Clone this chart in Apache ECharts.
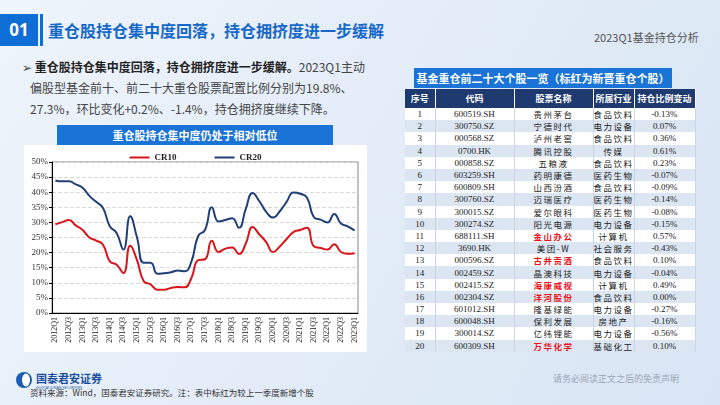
<!DOCTYPE html>
<html>
<head>
<meta charset="utf-8">
<script src="https://cdn.jsdelivr.net/npm/echarts@6.0.0/dist/echarts.min.js"></script>
<style>
  body { margin: 0; }
  #slide {
    position: relative; width: 720px; height: 405px; overflow: hidden;
    background: linear-gradient(120deg, #eef4fb 0%, #e4edf8 45%, #d8e5f4 100%);
    font-family: "Noto Sans CJK SC", "Noto Sans", sans-serif;
  }
  .abs { position: absolute; white-space: nowrap; }
  #num { left: 0; top: 14px; width: 38px; height: 32px; background: #0e6ed6; color: #fff;
         font: bold 17px "Noto Sans", sans-serif; line-height: 32px; text-align: center; }
  #bar { left: 40px; top: 14px; width: 3px; height: 32px; background: #0e6ed6; }
  #title { left: 48px; top: 17px; font-size: 16px; font-weight: bold; color: #1668c8; line-height: 26px; }
  #sub { left: 594px; top: 29px; font-size: 11px; color: #555; }
  #para { left: 22px; top: 56px; font-size: 12px; line-height: 21px; color: #444; }
  #para b { color: #222; }
  #ctitle { left: 57px; top: 125px; width: 276px; height: 20px; background: #1a73d6; color: #fff;
            font-size: 11px; font-weight: bold; text-align: center; line-height: 20px; }
  #chart { position: absolute; left: 24px; top: 145px; width: 343px; height: 207px; background: #fff; }
  #ttitle { left: 414px; top: 68px; width: 258px; height: 20px; background: #1a73d6; color: #fff;
            font-size: 11px; font-weight: bold; text-align: center; line-height: 20px; }
  #tbl { position: absolute; left: 405px; top: 89px; border-collapse: collapse; table-layout: fixed; }
  #tbl th { background: #1f3a6e; color: #fff; font-size: 9px; font-weight: bold; height: 19px;
            padding: 0; border-right: 1px solid #fff; }
  #tbl td { height: 12.2px; padding: 0; font-size: 8.5px; text-align: center; color: #222;
            border-right: 1px solid #c9d5e5; line-height: 12px; }
  #tbl td.n { font-family: "Liberation Serif", serif; font-size: 9px; }
  #tbl td.c { letter-spacing: 1.5px; }
  #tbl tr.alt td { background: #dce6f2; }
  #tbl tr.wh td { background: #fff; }
  #tbl td.red { color: #e8141b; font-weight: bold; }
  #logo { left: 15px; top: 370px; }
  #src { left: 30px; top: 386px; font-size: 8.5px; color: #333; }
  #disc { left: 553px; top: 372px; font-size: 9px; color: #9aa6b6; }
</style>
</head>
<body>
<div id="slide">
  <div id="num" class="abs">01</div>
  <div id="bar" class="abs"></div>
  <div id="title" class="abs">重仓股持仓集中度回落，持仓拥挤度进一步缓解</div>
  <div id="sub" class="abs">2023Q1基金持仓分析</div>
  <div id="para" class="abs">➢ <b>重仓股持仓集中度回落，持仓拥挤度进一步缓解。</b>2023Q1主动<br>&nbsp;&nbsp;&nbsp;偏股型基金前十、前二十大重仓股票配置比例分别为19.8%、<br>&nbsp;&nbsp;&nbsp;27.3%，环比变化+0.2%、-1.4%，持仓拥挤度继续下降。</div>
  <div id="ctitle" class="abs">重仓股持仓集中度仍处于相对低位</div>
  <div id="chart"></div>
  <div id="ttitle" class="abs">基金重仓前二十大个股一览（标红为新晋重仓个股）</div>
  <table id="tbl">
    <colgroup><col style="width:30px"><col style="width:79px"><col style="width:79px"><col style="width:41px"><col style="width:61px"></colgroup>
    <thead><tr><th>序号</th><th>代码</th><th>股票名称</th><th>所属行业</th><th>持仓比例变动</th></tr></thead>
    <tbody id="tbody"></tbody>
  </table>
  <div id="logo" class="abs">
    <svg width="95" height="22">
      <ellipse cx="9" cy="10" rx="8" ry="8" fill="#1a5fb0"/>
      <ellipse cx="11" cy="10" rx="4" ry="6.5" fill="#fff"/>
      <text x="21" y="13" font-size="11" font-weight="bold" fill="#1a4f9c" font-family="Noto Sans CJK SC">国泰君安证券</text>
      <text x="21" y="19" font-size="3.6" fill="#1a4f9c" font-family="Noto Sans">GUOTAI JUNAN SECURITIES</text>
    </svg>
  </div>
  <div id="src" class="abs">资料来源：Wind，国泰君安证券研究。注：表中标红为较上一季度新增个股</div>
  <div id="disc" class="abs">请务必阅读正文之后的免责声明</div>
</div>

<script>
var quarters = ['2012Q1','2012Q2','2012Q3','2012Q4','2013Q1','2013Q2','2013Q3','2013Q4',
  '2014Q1','2014Q2','2014Q3','2014Q4','2015Q1','2015Q2','2015Q3','2015Q4',
  '2016Q1','2016Q2','2016Q3','2016Q4','2017Q1','2017Q2','2017Q3','2017Q4',
  '2018Q1','2018Q2','2018Q3','2018Q4','2019Q1','2019Q2','2019Q3','2019Q4',
  '2020Q1','2020Q2','2020Q3','2020Q4','2021Q1','2021Q2','2021Q3','2021Q4',
  '2022Q1','2022Q2','2022Q3','2022Q4','2023Q1']
var cr10 = [29.4, 30.1, 30.8, 29.0, 27.5, 25.0, 24.0, 22.6, 17.1, 16.0, 13.2, 22.3,
  17.5, 10.5, 9.5, 7.7, 7.7, 8.3, 8.6, 8.5, 11.6, 17.5, 17.8, 23.9,
  20.2, 21.3, 21.7, 19.5, 23.0, 28.5, 26.0, 23.5, 20.2, 22.0, 24.5, 26.8,
  27.5, 28.2, 22.1, 21.5, 21.0, 22.8, 20.2, 19.6, 19.8]
var cr20 = [43.9, 43.6, 43.6, 42.6, 41.5, 38.8, 36.8, 34.8, 28.7, 26.5, 21.0, 32.0,
  25.0, 16.6, 16.6, 13.0, 13.2, 13.5, 14.1, 13.8, 17.0, 25.5, 27.5, 35.0,
  30.3, 30.8, 31.4, 28.2, 34.5, 39.7, 37.0, 33.5, 31.6, 33.7, 36.8, 39.9,
  39.5, 38.2, 31.8, 30.9, 30.0, 32.8, 29.6, 28.7, 27.3]

var codes = ['600519.SH','300750.SZ','000568.SZ','0700.HK','000858.SZ','603259.SH','600809.SH',
  '300760.SZ','300015.SZ','300274.SZ','688111.SH','3690.HK','000596.SZ','002459.SZ',
  '002415.SZ','002304.SZ','601012.SH','600048.SH','300014.SZ','600309.SH']
var names = ['贵州茅台','宁德时代','泸州老窖','腾讯控股','五粮液','药明康德','山西汾酒','迈瑞医疗',
  '爱尔眼科','阳光电源','金山办公','美团-W','古井贡酒','晶澳科技','海康威视','洋河股份',
  '隆基绿能','保利发展','亿纬锂能','万华化学']
var industries = ['食品饮料','电力设备','食品饮料','传媒','食品饮料','医药生物','食品饮料','医药生物',
  '医药生物','电力设备','计算机','社会服务','食品饮料','电力设备','计算机','食品饮料',
  '电力设备','房地产','电力设备','基础化工']
var changes = ['-0.13%','0.07%','0.36%','0.61%','0.23%','-0.07%','-0.09%','-0.14%','-0.08%','-0.15%',
  '0.57%','-0.43%','0.10%','-0.04%','0.49%','0.00%','-0.27%','-0.16%','-0.56%','0.10%']
var newNames = ['金山办公','古井贡酒','海康威视','洋河股份','万华化学']

var rows = ''
for (var i = 0; i < codes.length; i++) {
  var red = newNames.indexOf(names[i]) >= 0 ? ' red' : ''
  rows += '<tr class="' + (i % 2 ? 'alt' : 'wh') + '">' +
    '<td class="n">' + (i + 1) + '</td>' +
    '<td class="n">' + codes[i] + '</td>' +
    '<td class="c' + red + '">' + names[i] + '</td>' +
    '<td class="c">' + industries[i] + '</td>' +
    '<td class="n">' + changes[i] + '</td></tr>'
}
document.getElementById('tbody').innerHTML = rows

var serif = 'Liberation Serif'
var myChart = echarts.init(document.getElementById('chart'))
myChart.setOption({
  animation: false,
  color: ['#d7151b', '#213f77'],
  legend: {
    top: 3,
    left: 'center',
    itemGap: 38,
    itemWidth: 20,
    itemHeight: 2,
    icon: 'rect',
    textStyle: { fontFamily: serif, fontWeight: 'bold', fontSize: 9, color: '#222' },
    data: ['CR10', 'CR20']
  },
  grid: { left: 28, right: 9, top: 17, bottom: 39, show: true, borderColor: '#888', borderWidth: 1 },
  xAxis: {
    type: 'category',
    data: quarters,
    boundaryGap: true,
    axisLine: { lineStyle: { color: '#000' } },
    axisTick: { alignWithLabel: true, interval: 0, length: 3, lineStyle: { color: '#000' } },
    axisLabel: { interval: 1, rotate: 90, fontFamily: serif, fontSize: 8, color: '#222', margin: 4 }
  },
  yAxis: {
    type: 'value',
    min: 0,
    max: 50,
    interval: 5,
    axisLine: { show: true, lineStyle: { color: '#000' } },
    axisTick: { show: true, length: 3, lineStyle: { color: '#000' } },
    axisLabel: { formatter: '{value}%', fontFamily: serif, fontSize: 9, color: '#333', margin: 4 },
    splitLine: { lineStyle: { color: '#d9d9d9', type: 'dashed' } }
  },
  series: [
    { name: 'CR10', type: 'line', data: cr10, smooth: 0.5, showSymbol: false, lineStyle: { width: 2 } },
    { name: 'CR20', type: 'line', data: cr20, smooth: 0.5, showSymbol: false, lineStyle: { width: 2 } }
  ]
})
window.addEventListener('resize', function () { myChart.resize() })
</script>
</body>
</html>
